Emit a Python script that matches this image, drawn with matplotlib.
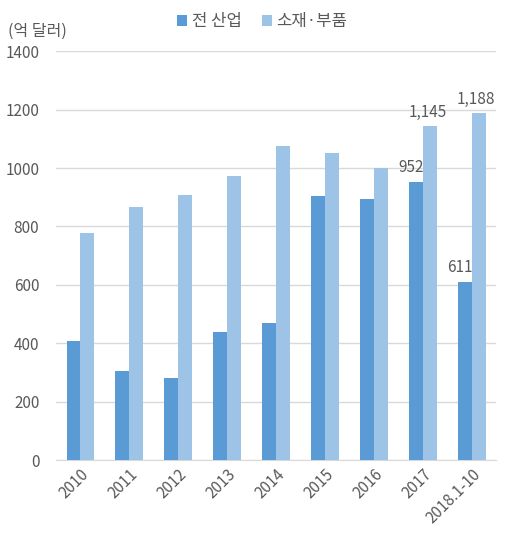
import numpy as np
import matplotlib.pyplot as plt

plt.rcParams['font.family'] = ['Noto Sans CJK KR', 'DejaVu Sans']

# 데이터 (억 달러)
years = ['2010', '2011', '2012', '2013', '2014', '2015', '2016', '2017', '2018.1-10']
all_industry = [408, 305, 282, 440, 470, 904, 894, 952, 611]
parts = [777, 866, 907, 973, 1076, 1052, 1002, 1145, 1188]
labels_all = {7: '952', 8: '611'}
labels_parts = {7: '1,145', 8: '1,188'}

c_dark = '#5B9BD5'
c_light = '#9DC3E6'
txt = '#595959'

fig = plt.figure(figsize=(5.09, 5.4), dpi=100)
ax = fig.add_axes([0.110, 0.148, 0.865, 0.757])

x = np.arange(len(years))
w = 0.285
b1 = ax.bar(x - w/2, all_industry, w, color=c_dark, label='전 산업', zorder=3)
b2 = ax.bar(x + w/2, parts, w, color=c_light, label='소재·부품', zorder=3)

for i, s in labels_all.items():
    ax.text(x[i] - w/2 - 0.1, all_industry[i] + 20, s, ha='center', va='bottom',
            fontsize=11, color=txt)
for i, s in labels_parts.items():
    ax.text(x[i] + w/2 - 0.05, parts[i] + 18, s, ha='center', va='bottom',
            fontsize=11, color=txt)

ax.set_xlim(-0.5, len(years) - 0.5)
ax.set_ylim(0, 1400)
ax.set_yticks(range(0, 1401, 200))
ax.yaxis.grid(True, color='#D9D9D9', linewidth=1, zorder=0)
ax.set_axisbelow(True)
for sp in ['top', 'right', 'left']:
    ax.spines[sp].set_visible(False)
ax.spines['bottom'].set_color('#D9D9D9')
ax.tick_params(axis='both', length=0, colors=txt, labelsize=11)
ax.tick_params(axis='y', pad=12)
ax.tick_params(axis='x', pad=4)
ax.set_xticks(x)
ax.set_xticklabels(years, rotation=45, ha='right', rotation_mode='anchor')

fig.text(0.016, 0.942, '(억 달러)', fontsize=11.5, color=txt, ha='left', va='center')
fig.legend(handles=[b1, b2], loc='center', bbox_to_anchor=(0.515, 0.960), ncol=2,
           frameon=False, fontsize=12, labelcolor=txt, handlelength=0.6,
           handleheight=0.6, handletextpad=0.3, columnspacing=1.2)

fig.savefig('out.png', dpi=100)
